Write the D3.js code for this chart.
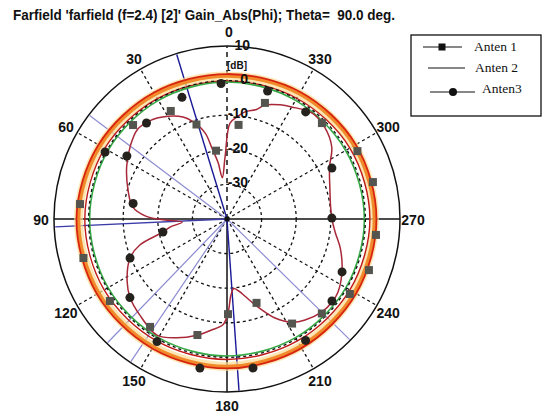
<!DOCTYPE html>
<html>
<head>
<meta charset="utf-8">
<script src="https://cdn.jsdelivr.net/npm/d3@7"></script>
<style>
  body { margin: 0; background: #fff; }
  svg { display: block; }
</style>
</head>
<body>
<svg id="chart" width="544" height="419"></svg>
<script>
// ---- chart data ----
const titleText = "Farfield 'farfield (f=2.4) [2]' Gain_Abs(Phi); Theta=  90.0 deg.";
const angleTicks = [0, 30, 60, 90, 120, 150, 180, 210, 240, 270, 300, 330];
const dbTicks = [-30, -20, -10, 0, 10];
const dbRange = [-40, 10];

// near-omni ring patterns, sampled every 30 degrees of Phi
const ringPhi = [0, 30, 60, 90, 120, 150, 180, 210, 240, 270, 300, 330];
const ringOuterGain = [1.3, 1.6, 2.3, 2.9, 2.8, 2.6, 2.6, 2.5, 2.5, 2.6, 2.4, 1.8];
const ringMidGain = [-0.1, 0.2, 0.8, 1.1, 1.0, 0.7, 0.6, 0.7, 1.0, 1.3, 1.0, 0.3];
const ringInnerGain = [-0.4, -0.4, -0.3, -0.3, -0.3, -0.4, -0.4, -0.4, -0.3, -0.3, -0.4, -0.4];

// lobed pattern with deep nulls
const lobePhi = [1.8, 6.5, 9, 12, 14.3, 19.3, 23.3, 30, 38, 45, 53, 62.5, 73.7, 82.7, 88, 90.5, 94, 98,
  101.5, 106.6, 111.9, 122.2, 129.2, 137.8, 148.9, 157, 165.5, 172, 177.8, 180.6, 183, 185.5, 189, 191,
  198, 205.9, 212.3, 217.7, 225.6, 231.7, 236.7, 246, 255.6, 263, 270.5, 278, 285.7, 296.8, 304.4, 313,
  321, 330, 335, 341.6, 344.9, 350.5, 354.4, 358.2];
const lobeGain = [-22.1, -28, -23.5, -19, -14.3, -10.2, -7.9, -5.7, -3.9, -3.4, -5.0, -7.3, -10.2, -12.5, -16.5, -21, -27, -23.5,
  -21.2, -13.7, -9.8, -5.9, -3.9, -2.5, -0.8, -2.7, -5.3, -7.6, -9.4, -12.8, -18, -19.8, -19, -18.2,
  -14, -8.2, -4.7, -3.1, -1.6, -1.3, -1.6, -3.6, -6.2, -8.5, -9.7, -9.8, -9.1, -6.8, -3.3, -1.3,
  -0.7, -2.6, -3.6, -5.3, -7.2, -8.6, -10.4, -12.3];

// Anten 1 samples (square markers)
const anten1Phi = [9.1, 17.9, 27.5, 45, 84.2, 105.2, 125, 144.5, 165.7, 180.6, 199.4, 211.9, 225.1, 238.6, 250.2, 263.9, 284.2, 297.5, 315.3, 341.9, 353];
const anten1Gain = [-20.0, -11.3, -4.8, -1.6, 2.7, 3.0, 1.3, -1.7, -5.4, -12.5, -14.3, -4.4, -1.3, 1.6, 3.6, 3.3, 3.5, 2.5, -1.0, -4.7, -12.6];

// Anten3 samples (circle markers)
const anten3Phi = [2.5, 20.3, 40, 57.8, 61.2, 80.6, 101.5, 111.9, 129, 150.3, 169.7, 189.9, 212.9, 232, 245.3, 270.5, 295.9, 323.7, 342.4];
const anten3Gain = [-0.8, -2.5, -3.8, -5.8, 0.2, -12.5, -21.1, -9.8, -3.9, 0.8, 3.8, 3.7, 1.8, -1.5, -3.4, -9.7, -6.3, -1.6, -1.2];

// main-lobe direction and beam-width lines (Phi, deg)
const beamDarkPhi = [17, 184];
const beamMidPhi = [92.6];
const beamLightPhi = [53, 136, 146, 225.5];

// ---- layout ----
const cx = 227, cy = 219, R = 173;
const svg = d3.select("#chart");
const rScale = d3.scaleLinear().domain(dbRange).range([0, R]);
const rad = d => d * Math.PI / 180;
// Phi runs counter-clockwise from the top
const px = (phi, r) => cx - r * Math.sin(rad(phi));
const py = (phi, r) => cy - r * Math.cos(rad(phi));

const plot = svg.append("g").attr("transform", `translate(${cx},${cy})`);

const radial = d3.lineRadial()
  .angle(d => -rad(d[0]))
  .radius(d => rScale(d[1]));

const zipPts = (a, b) => a.map((v, i) => [v, b[i]]);

// title
svg.append("text")
  .attr("x", 13).attr("y", 20)
  .attr("font-family", "Liberation Sans, Arial, sans-serif")
  .attr("font-weight", "bold").attr("font-size", 14)
  .attr("textLength", 382).attr("lengthAdjust", "spacingAndGlyphs")
  .style("white-space", "pre")
  .attr("fill", "#111")
  .text(titleText);

// outer boundary circle
plot.append("circle").attr("r", R).attr("fill", "none").attr("stroke", "#111").attr("stroke-width", 1.5);

// dashed dB grid circles
plot.selectAll("circle.grid").data(dbTicks.filter(d => d < 0)).join("circle")
  .attr("class", "grid")
  .attr("r", d => rScale(d))
  .attr("fill", "none").attr("stroke", "#111").attr("stroke-width", 1.3)
  .attr("stroke-dasharray", "3,3");

// dashed radial spokes
plot.selectAll("line.spoke").data(angleTicks.filter(a => a % 90 !== 0)).join("line")
  .attr("class", "spoke")
  .attr("x1", 0).attr("y1", 0)
  .attr("x2", a => -R * Math.sin(rad(a)))
  .attr("y2", a => -R * Math.cos(rad(a)))
  .attr("stroke", "#111").attr("stroke-width", 1.3).attr("stroke-dasharray", "3,3");

// axis lines
plot.append("line").attr("x1", -R).attr("x2", R).attr("y1", 0).attr("y2", 0)
  .attr("stroke", "#111").attr("stroke-width", 1.5);
plot.append("line").attr("x1", 0).attr("x2", 0).attr("y1", 0).attr("y2", R)
  .attr("stroke", "#111").attr("stroke-width", 1.5);
plot.append("line").attr("x1", 0).attr("x2", 0).attr("y1", 0).attr("y2", -R)
  .attr("stroke", "#222").attr("stroke-width", 1.6).attr("stroke-dasharray", "5,4");

// dB labels
const lblFont = "Liberation Sans, Arial, sans-serif";
svg.append("text").attr("x", cx + 10).attr("y", 69)
  .attr("font-family", lblFont).attr("font-weight", "bold").attr("font-size", 10)
  .attr("text-anchor", "middle").attr("fill", "#111").text("[dB]");
svg.selectAll("text.db").data(dbTicks).join("text")
  .attr("class", "db")
  .attr("x", d => cx + (d === 10 ? 23 : 21))
  .attr("y", d => cy - rScale(d) + (d === 10 ? 4 : 3))
  .attr("text-anchor", "end")
  .attr("font-family", lblFont).attr("font-weight", "bold").attr("font-size", 14)
  .attr("fill", "#111")
  .text(d => d);

// angle labels
svg.selectAll("text.ang").data(angleTicks).join("text")
  .attr("class", "ang")
  .attr("x", a => px(a, 186) + (a === 0 ? 2 : 0))
  .attr("y", a => py(a, 186) + (a === 0 ? 4 : 6))
  .attr("text-anchor", "middle")
  .attr("font-family", lblFont).attr("font-weight", "bold").attr("font-size", 14)
  .attr("fill", "#111")
  .text(a => a);

// beam lines
const beamLines = (phis, color, w) => plot.selectAll(null).data(phis).join("line")
  .attr("x1", 0).attr("y1", 0)
  .attr("x2", a => -(R - 1) * Math.sin(rad(a)))
  .attr("y2", a => -(R - 1) * Math.cos(rad(a)))
  .attr("stroke", color).attr("stroke-width", w);
beamLines(beamLightPhi, "#8c8cd2", 1.2);
beamLines(beamMidPhi, "#3c3ca8", 1.3);
beamLines(beamDarkPhi, "#1a1a96", 1.4);

// ring patterns
const closed = d3.curveCatmullRomClosed.alpha(0.5);
const outerPts = zipPts(ringPhi, ringOuterGain);
plot.append("path").attr("d", radial.curve(closed)(outerPts))
  .attr("fill", "none").attr("stroke", "#f9dc94").attr("stroke-width", 9).attr("opacity", 0.7);
plot.append("path").attr("d", radial.curve(closed)(outerPts))
  .attr("fill", "none").attr("stroke", "#f08a2a").attr("stroke-width", 3.5);
plot.append("path").attr("d", radial.curve(closed)(zipPts(ringPhi, ringOuterGain.map(g => g + 0.6))))
  .attr("fill", "none").attr("stroke", "#d8240f").attr("stroke-width", 1.8);
plot.append("path").attr("d", radial.curve(closed)(zipPts(ringPhi, ringMidGain)))
  .attr("fill", "none").attr("stroke", "#c01a18").attr("stroke-width", 1.4);
plot.append("path").attr("d", radial.curve(closed)(zipPts(ringPhi, ringInnerGain)))
  .attr("fill", "none").attr("stroke", "#34a844").attr("stroke-width", 1.6);
// 0 dB grid circle runs over the green ring
plot.append("circle").attr("r", rScale(0))
  .attr("fill", "none").attr("stroke", "#111").attr("stroke-width", 1.3)
  .attr("stroke-dasharray", "3,3");

// lobed pattern
plot.append("path").attr("d", radial.curve(closed)(zipPts(lobePhi, lobeGain)))
  .attr("fill", "none").attr("stroke", "#a82838").attr("stroke-width", 1.5);

// markers
plot.selectAll("rect.a1").data(zipPts(anten1Phi, anten1Gain)).join("rect")
  .attr("class", "a1")
  .attr("x", d => -rScale(d[1]) * Math.sin(rad(d[0])) - 4)
  .attr("y", d => -rScale(d[1]) * Math.cos(rad(d[0])) - 4)
  .attr("width", 8).attr("height", 8)
  .attr("fill", "#55554f");
plot.selectAll("circle.a3").data(zipPts(anten3Phi, anten3Gain)).join("circle")
  .attr("class", "a3")
  .attr("cx", d => -rScale(d[1]) * Math.sin(rad(d[0])))
  .attr("cy", d => -rScale(d[1]) * Math.cos(rad(d[0])))
  .attr("r", 4.5)
  .attr("fill", "#25221e");

// center dot
plot.append("circle").attr("r", 2.5).attr("fill", "#111");

// legend
const lg = svg.append("g");
lg.append("rect").attr("x", 411).attr("y", 35).attr("width", 130).attr("height", 81)
  .attr("fill", "#fff").attr("stroke", "#111").attr("stroke-width", 1.3);
const serif = "Liberation Serif, Times New Roman, serif";
lg.append("line").attr("x1", 423).attr("x2", 462).attr("y1", 47).attr("y2", 47).attr("stroke", "#111");
lg.append("rect").attr("x", 438.5).attr("y", 43.5).attr("width", 7).attr("height", 7).attr("fill", "#111");
lg.append("text").attr("x", 474).attr("y", 51).attr("font-family", serif).attr("font-size", 13.5).attr("fill", "#111").text("Anten 1");
lg.append("line").attr("x1", 428).attr("x2", 465).attr("y1", 68).attr("y2", 68).attr("stroke", "#111");
lg.append("text").attr("x", 475).attr("y", 72).attr("font-family", serif).attr("font-size", 13.5).attr("fill", "#111").text("Anten 2");
lg.append("line").attr("x1", 430).attr("x2", 475).attr("y1", 92).attr("y2", 92).attr("stroke", "#111");
lg.append("circle").attr("cx", 453).attr("cy", 92).attr("r", 4).attr("fill", "#111");
lg.append("text").attr("x", 482).attr("y", 93).attr("font-family", serif).attr("font-size", 13.5).attr("fill", "#111").text("Anten3");
</script>
</body>
</html>
